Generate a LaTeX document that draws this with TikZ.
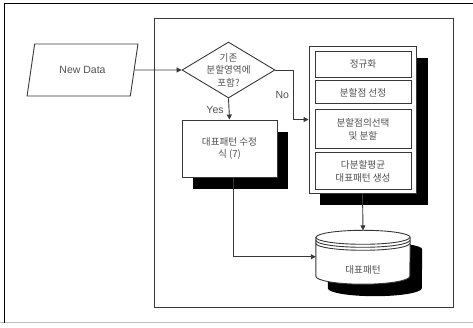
\documentclass[tikz,border=0pt]{standalone}
\usepackage{fontspec}
\setmainfont{Liberation Sans}
\newfontfamily\krfont{Noto Sans CJK KR}
\usetikzlibrary{arrows.meta,positioning,shapes.geometric,shadows,calc}
\definecolor{txtgray}{HTML}{505050}
\definecolor{linegray}{HTML}{383838}

\begin{document}
\begin{tikzpicture}[
        x=1pt, y=1pt,
        every node/.style={font=\fontsize{10.5}{12}\selectfont, text=txtgray},
        kr/.style={font=\krfont\fontsize{9.6}{12.5}\selectfont},
        io/.style={draw=linegray, line width=0.9pt, trapezium,
                   trapezium left angle=63.4, trapezium right angle=116.6,
                   trapezium stretches=true, minimum width=111pt,
                   minimum height=52pt, inner sep=0pt},
        decision/.style={draw=linegray, line width=0.9pt, diamond,
                         minimum width=93pt, minimum height=56pt, inner sep=0pt},
        box/.style={draw=linegray, line width=0.9pt, fill=white, align=center, kr,
                    drop shadow={shadow xshift=11pt, shadow yshift=-12pt,
                                 fill=black, opacity=1}},
        stage/.style={draw=linegray, line width=0.9pt, fill=white, align=center,
                      kr, minimum width=96pt, inner sep=0pt},
        arrow/.style={-{Triangle[length=5pt,width=5pt]}, line width=0.9pt,
                      draw=linegray},
        lbl/.style={inner sep=0pt}
    ]
        \useasboundingbox (0,0) rectangle (473,328);
        % frames
        \draw[black!25, line width=1pt] (0,5) -- (473,5);
        \draw[black, line width=1pt] (4,5) -- (4,324) -- (473,324);
        \draw[linegray, line width=1pt] (154,20) rectangle (453,309);

        \node[io] (newdata) at (82.5,258) {New Data};
        \node[decision] (cond) at (228.5,258) {};
        \node[kr, align=center, inner sep=0pt] (condtext) at (228.5,258)
            {기존\\분할영역에\\포함?};
        \node[box, minimum width=95pt, minimum height=57pt] (fix) at (229.5,179.5)
            {대표패턴 수정\\식 (7)};
        \node[box, minimum width=107pt, minimum height=147pt,
              drop shadow={shadow xshift=12pt, shadow yshift=-12pt,
                           fill=black, opacity=1}] (proc) at (362.5,208.5) {};
        \node[stage, minimum height=26pt] (norm) at (363,264) {정규화};
        \node[stage, minimum height=23pt, below=3pt of norm] (split) {분할점 선정};
        \node[stage, minimum height=39pt, below=5pt of split] (choose)
            {분할점의선택\\및 분할};
        \node[stage, minimum height=37pt, below=3pt of choose] (mean)
            {다분할평균\\대표패턴 생성};

        % cylinder
        \node[minimum width=94pt, minimum height=38.5pt, inner sep=0pt] (db)
            at (363,71.25) {};
        \coordinate (dbtop) at ($(db.north)+(0,7pt)$);
        \fill[black] ([shift={(12pt,-12pt)}]db.north west)
            -- ([shift={(12pt,-12pt)}]db.south west)
            arc[start angle=180, end angle=360, x radius=47pt, y radius=8pt]
            -- ([shift={(12pt,-12pt)}]db.north east)
            arc[start angle=0, end angle=180, x radius=47pt, y radius=7pt] -- cycle;
        \draw[linegray, line width=0.9pt, fill=white] (db.north west)
            -- (db.south west)
            arc[start angle=180, end angle=360, x radius=47pt, y radius=8pt]
            -- (db.north east)
            arc[start angle=0, end angle=180, x radius=47pt, y radius=7pt] -- cycle;
        \foreach \dy in {0,3,6}
            \draw[linegray, line width=0.9pt] ([yshift=-\dy pt]db.north west)
                arc[start angle=180, end angle=360, x radius=47pt, y radius=7pt];
        \node[kr, inner sep=0pt] (dbtext) at (363,58) {대표패턴};

        \draw[arrow] (newdata.east) -- (cond.west);
        \draw[arrow] (cond.south) -- (fix.north)
            node[lbl, pos=0.55, left=5pt] (yes) {Yes};
        \draw[arrow] (cond.east) -- ++(18pt,0) |- (proc.west)
            node[lbl, pos=0.25, left=4pt] (no) {No};
        \draw[arrow] (proc.south) -- (dbtop);
        \draw[arrow] ([xshift=4pt]fix.south) |- (db.west);
    \end{tikzpicture}
\end{document}
